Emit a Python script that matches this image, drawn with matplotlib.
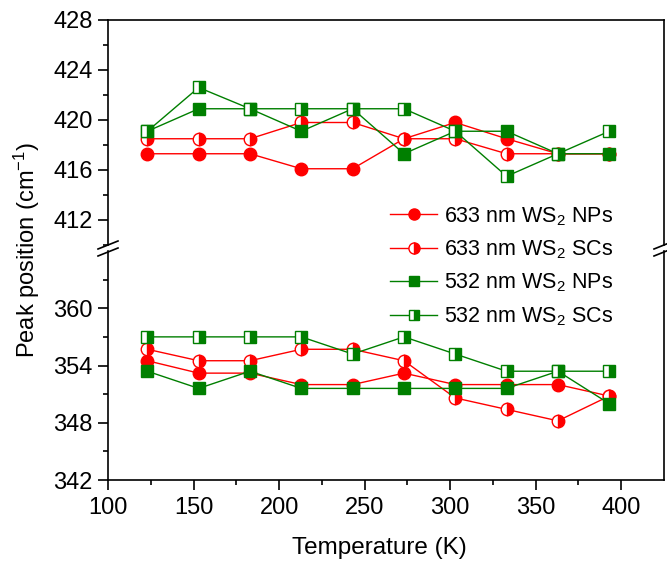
import matplotlib
matplotlib.use("Agg")
import matplotlib.pyplot as plt
from matplotlib.lines import Line2D

plt.rcParams['font.family'] = ['Liberation Sans', 'DejaVu Sans']
plt.rcParams['mathtext.fontset'] = 'custom'
plt.rcParams['mathtext.rm'] = 'Liberation Sans'
plt.rcParams['mathtext.it'] = 'Liberation Sans:italic'
plt.rcParams['mathtext.default'] = 'regular'

temps = [123, 153, 183, 213, 243, 273, 303, 333, 363, 393]

# upper band (~418 cm-1 mode)
np633_hi = [417.3, 417.3, 417.3, 416.1, 416.1, 418.5, 419.8, 418.5, 417.3, 417.3]
sc633_hi = [418.5, 418.5, 418.5, 419.8, 419.8, 418.5, 418.5, 417.3, 417.3, 417.3]
np532_hi = [419.1, 420.9, 420.9, 419.1, 420.9, 417.3, 419.1, 419.1, 417.3, 417.3]
sc532_hi = [419.1, 422.6, 420.9, 420.9, 420.9, 420.9, 419.1, 415.5, 417.3, 419.1]

# lower band (~352 cm-1 mode)
np633_lo = [354.5, 353.2, 353.2, 352.0, 352.0, 353.2, 352.0, 352.0, 352.0, 350.8]
sc633_lo = [355.7, 354.5, 354.5, 355.7, 355.7, 354.5, 350.6, 349.4, 348.2, 350.8]
np532_lo = [353.4, 351.6, 353.4, 351.6, 351.6, 351.6, 351.6, 351.6, 353.4, 350.0]
sc532_lo = [357.0, 357.0, 357.0, 357.0, 355.2, 357.0, 355.2, 353.4, 353.4, 353.4]

labels = ['633 nm WS$_2$ NPs', '633 nm WS$_2$ SCs', '532 nm WS$_2$ NPs', '532 nm WS$_2$ SCs']

W, H = 667, 567
fig = plt.figure(figsize=(W / 100, H / 100), dpi=100)
L, R = 108 / W, 664 / W
top_hi, bot_hi = 1 - 20 / H, 1 - 245 / H
top_lo, bot_lo = 1 - 251 / H, 1 - 480 / H
ax_hi = fig.add_axes([L, bot_hi, R - L, top_hi - bot_hi])
ax_lo = fig.add_axes([L, bot_lo, R - L, top_lo - bot_lo])

red = '#ff0000'
green = '#007f00'
styles = [
    dict(color=red, marker='o', ms=9, mfc=red, mec=red, fillstyle='full'),
    dict(color=red, marker='o', ms=9, mfc=red, mec=red, fillstyle='right', markerfacecoloralt='white'),
    dict(color=green, marker='s', ms=8, mfc=green, mec=green, fillstyle='full'),
    dict(color=green, marker='s', ms=8, mfc=green, mec=green, fillstyle='right', markerfacecoloralt='white'),
]
hi = [np633_hi, sc633_hi, np532_hi, sc532_hi]
lo = [np633_lo, sc633_lo, np532_lo, sc532_lo]
for i in range(4):
    st = styles[i]
    ax_hi.plot(temps, hi[i], lw=1, mew=1, clip_on=False, **st)
    ax_lo.plot(temps, lo[i], lw=1, mew=1, clip_on=False, **st)

# legend handles (slightly smaller markers, as in the original)
leg_styles = [
    dict(color=red, marker='o', ms=8, mfc=red, mec=red, fillstyle='full'),
    dict(color=red, marker='o', ms=8, mfc=red, mec=red, fillstyle='right', markerfacecoloralt='white'),
    dict(color=green, marker='s', ms=6.5, mfc=green, mec=green, fillstyle='full'),
    dict(color=green, marker='s', ms=6.5, mfc=green, mec=green, fillstyle='right', markerfacecoloralt='white'),
]
handles = [Line2D([], [], lw=1, mew=1, **st) for st in leg_styles]

for ax in (ax_hi, ax_lo):
    ax.set_xlim(100, 425)
    for s in ('left', 'right', 'top', 'bottom'):
        ax.spines[s].set_linewidth(1.2)
    ax.tick_params(axis='both', which='major', direction='out', length=7, width=1.2,
                   labelsize=17, right=False, top=False, pad=4)
    ax.tick_params(axis='both', which='minor', direction='out', length=3.8, width=1.2,
                   right=False, top=False)

ax_hi.set_ylim(410, 428)
ax_hi.set_yticks([412, 416, 420, 424, 428])
ax_hi.set_yticks([410, 414, 418, 422, 426], minor=True)
ax_hi.spines['bottom'].set_visible(False)
ax_hi.tick_params(axis='x', which='both', bottom=False, labelbottom=False)

ax_lo.set_ylim(342, 366)
ax_lo.set_yticks([342, 348, 354, 360])
ax_lo.set_yticks([345, 351, 357, 363], minor=True)
ax_lo.spines['top'].set_visible(False)
ax_lo.set_xticks([100, 150, 200, 250, 300, 350, 400])
ax_lo.set_xticks([125, 175, 225, 275, 325, 375], minor=True)
ax_lo.tick_params(axis='x', which='major', pad=5)

# break marks
ybreak = 1 - 248 / H
for xb in (L, R):
    for dy in (-4, 3):
        fig.add_artist(Line2D([xb - 10 / W, xb + 10 / W],
                              [ybreak + (dy - 4) / H, ybreak + (dy + 4) / H],
                              color='black', lw=1.2))

fig.text(0.5 * (L + R) - 0.01, 1 - 548 / H, 'Temperature (K)', ha='center', va='center', fontsize=17.5)
fig.text(27 / W, 1 - 250 / H, 'Peak position (cm$^{-1}$)', ha='center', va='center',
         rotation=90, fontsize=17)

fig.legend(handles, labels, loc='upper left', bbox_to_anchor=(390 / W, 1 - 205 / H),
           frameon=False, fontsize=15.5, handlelength=2.2, handletextpad=0.3,
           labelspacing=0.5, borderaxespad=0, borderpad=0)

fig.savefig('out.png', dpi=100)
